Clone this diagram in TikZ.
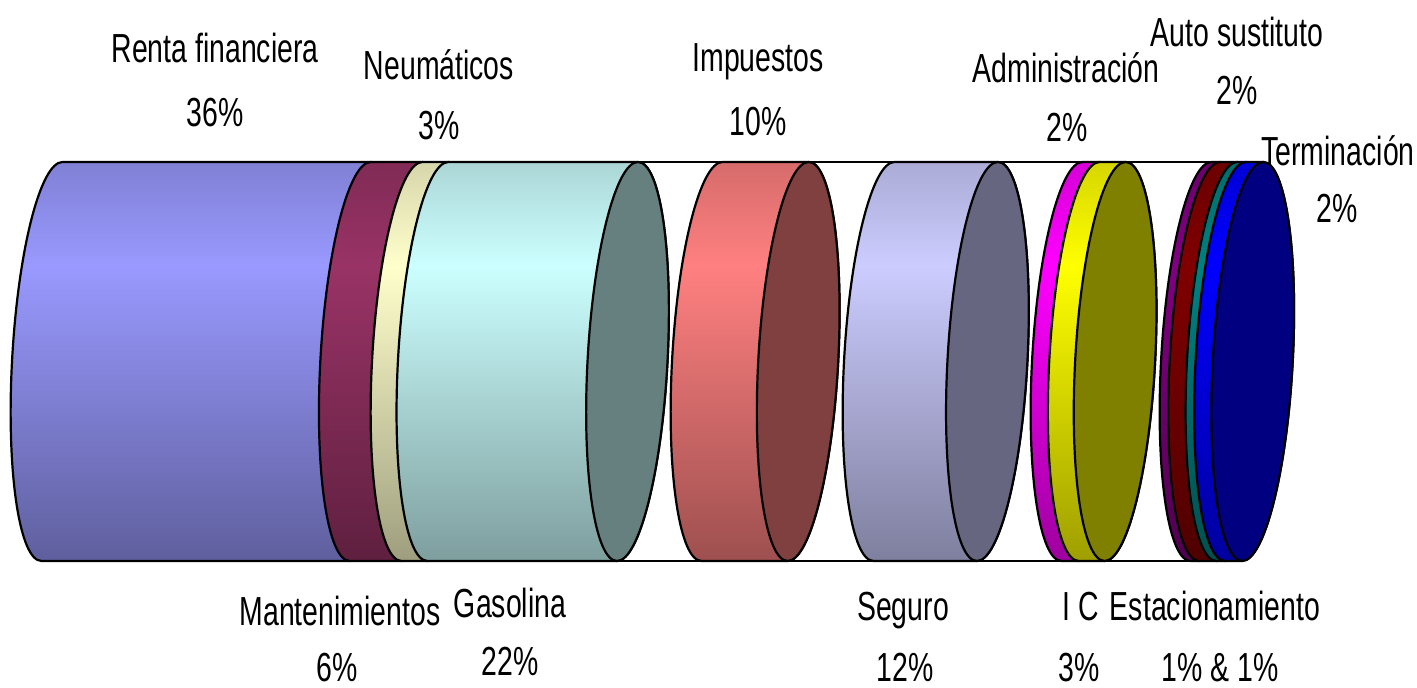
\documentclass[tikz,border=0pt]{standalone}
\usepackage{fontspec}
\setmainfont{Liberation Sans}[FakeStretch=0.7]

\definecolor{renta}{HTML}{9999FF}
\definecolor{mant}{HTML}{993366}
\definecolor{neum}{HTML}{FFFFCC}
\definecolor{gas}{HTML}{CCFFFF}
\definecolor{imp}{HTML}{FF8080}
\definecolor{seg}{HTML}{CCCCFF}
\definecolor{admin}{HTML}{FF00FF}
\definecolor{ic}{HTML}{FFFF00}
\definecolor{estA}{HTML}{800080}
\definecolor{auto}{HTML}{800000}
\definecolor{estB}{HTML}{008080}
\definecolor{term}{HTML}{0000FF}

\colorlet{base}{renta}
\pgfdeclareverticalshading[base]{cylshade}{100bp}{color(0bp)=(base!62!black); color(25bp)=(base!62!black); color(62bp)=(base); color(75bp)=(base!84!black); color(100bp)=(base!84!black)}

\def\ra{40}
\def\rb{199.5}

% one slab of the cylinder, from left centre #1 to right centre #2
\newcommand{\cylslice}[3]{%
  \colorlet{base}{#3}%
  \shadedraw[shading=cylshade] (#1,\rb) arc[start angle=90, end angle=270, x radius=\ra, y radius=\rb]
    -- (#2,-\rb) arc[start angle=-90, end angle=90, x radius=\ra, y radius=\rb] -- cycle;}
% visible end face
\newcommand{\cylface}[2]{%
  \filldraw[fill=#2!50!black] (#1,0) ellipse[x radius=\ra, y radius=\rb];}

\begin{document}
\begin{tikzpicture}[x=0.5pt, y=0.5pt, line width=1.1pt, line join=round]
	\tikzset{lbl/.style={font=\fontsize{20.3}{24}\selectfont, inner sep=0pt, anchor=base}};
	\useasboundingbox (0,0) rectangle (1417,688);

	\begin{scope}[shift={(0,326.5)}, xslant=0.0526]
		\draw (52,\rb) -- (1252.7,\rb);
		\draw (52,-\rb) -- (1252.7,-\rb);

		\cylslice{52}{360.3}{renta}
		\cylslice{360.3}{412}{mant}
		\cylslice{412}{437.9}{neum}
		\cylslice{437.9}{627.5}{gas}
		\cylface{627.5}{gas}

		\cylslice{712}{798.2}{imp}
		\cylface{798.2}{imp}

		\cylslice{884}{987.4}{seg}
		\cylface{987.4}{seg}

		\cylslice{1072}{1089.2}{admin}
		\cylslice{1089.2}{1115.1}{ic}
		\cylface{1115.1}{ic}

		\cylslice{1201}{1209.6}{estA}
		\cylslice{1209.6}{1226.9}{auto}
		\cylslice{1226.9}{1235.5}{estB}
		\cylslice{1235.5}{1252.7}{term}
		\cylface{1252.7}{term}
	\end{scope}

	\node[lbl] (renta) at (215, 625) {Renta financiera};
	\node[lbl] (renta-pc) at (215, 561) {36\%};
	\node[lbl] (neum) at (439, 608) {Neumáticos};
	\node[lbl] (neum-pc) at (439, 548) {3\%};
	\node[lbl] (imp) at (758, 616) {Impuestos};
	\node[lbl] (imp-pc) at (758, 552) {10\%};
	\node[lbl] (admin) at (1066, 605) {Administración};
	\node[lbl] (admin-pc) at (1067, 546) {2\%};
	\node[lbl] (auto) at (1237, 641) {Auto sustituto};
	\node[lbl] (auto-pc) at (1237, 583) {2\%};
	\node[lbl] (term) at (1338, 522) {Terminación};
	\node[lbl] (term-pc) at (1337, 465) {2\%};

	\node[lbl] (mant) at (340, 62) {Mantenimientos};
	\node[lbl] (mant-pc) at (337, 6) {6\%};
	\node[lbl] (gas) at (510, 70) {Gasolina};
	\node[lbl] (gas-pc) at (510, 12) {22\%};
	\node[lbl] (seg) at (903, 67) {Seguro};
	\node[lbl] (seg-pc) at (905, 6) {12\%};
	\node[lbl] (ic) at (1081, 67) {I C};
	\node[lbl] (ic-pc) at (1079, 6) {3\%};
	\node[lbl] (est) at (1215, 67) {Estacionamiento};
	\node[lbl] (est-pc) at (1220, 6) {1\% \& 1\%};
\end{tikzpicture}
\end{document}
